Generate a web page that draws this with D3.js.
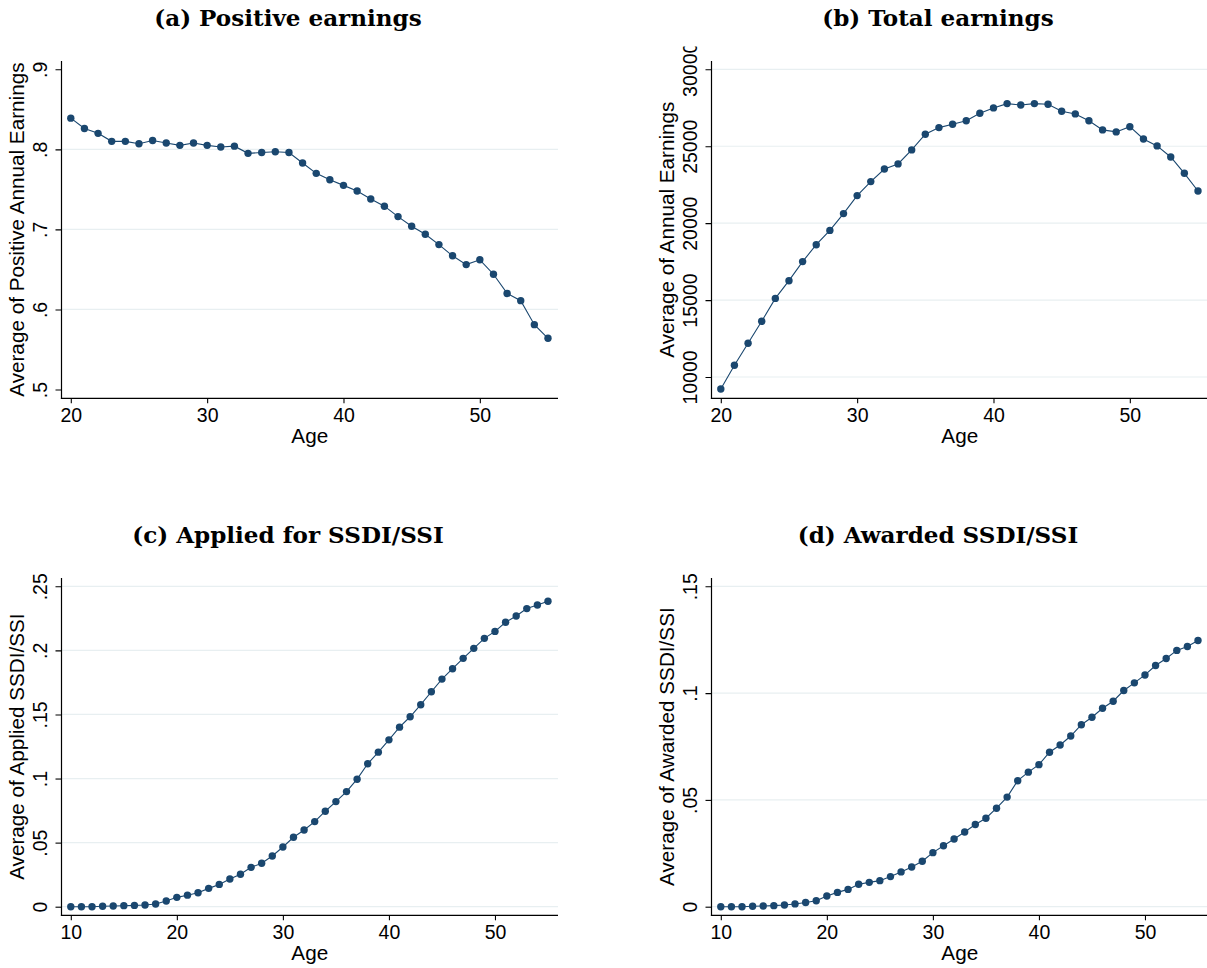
<!DOCTYPE html>
<html>
<head>
<meta charset="utf-8">
<script src="https://cdn.jsdelivr.net/npm/d3@7"></script>
<style>
  html, body { margin: 0; padding: 0; background: #fff; }
  svg { display: block; }
</style>
</head>
<body>
<svg id="chart" width="1207" height="968"></svg>
<script>
// ---------------- DATA ----------------
const agesA = [20,21,22,23,24,25,26,27,28,29,30,31,32,33,34,35,36,37,38,39,40,41,42,43,44,45,46,47,48,49,50,51,52,53,54,55];
const positiveEarnings = [0.839,0.826,0.820,0.810,0.810,0.807,0.811,0.808,0.805,0.808,0.805,0.803,0.804,0.795,0.796,0.797,0.796,0.783,0.770,0.762,0.755,0.748,0.738,0.729,0.716,0.704,0.694,0.681,0.667,0.656,0.662,0.644,0.620,0.611,0.581,0.564];

const agesB = [20,21,22,23,24,25,26,27,28,29,30,31,32,33,34,35,36,37,38,39,40,41,42,43,44,45,46,47,48,49,50,51,52,53,54,55];
const totalEarnings = [9220,10760,12190,13620,15110,16260,17500,18600,19530,20620,21790,22700,23520,23850,24760,25780,26210,26430,26660,27140,27490,27770,27680,27770,27730,27270,27100,26660,26060,25930,26270,25470,25020,24300,23240,22090];

const agesC = [10,11,12,13,14,15,16,17,18,19,20,21,22,23,24,25,26,27,28,29,30,31,32,33,34,35,36,37,38,39,40,41,42,43,44,45,46,47,48,49,50,51,52,53,54,55];
const appliedSSDI = [0,0,0,0.0003,0.0005,0.0008,0.001,0.0013,0.0021,0.0045,0.0073,0.0090,0.0109,0.0143,0.0174,0.0216,0.0253,0.0307,0.0339,0.0396,0.0466,0.0542,0.0599,0.0664,0.0745,0.0820,0.0898,0.0995,0.1115,0.1206,0.1302,0.1401,0.1482,0.1576,0.1677,0.1776,0.1857,0.1938,0.2016,0.2094,0.2148,0.2219,0.2268,0.2326,0.2354,0.2383];

const agesD = [10,11,12,13,14,15,16,17,18,19,20,21,22,23,24,25,26,27,28,29,30,31,32,33,34,35,36,37,38,39,40,41,42,43,44,45,46,47,48,49,50,51,52,53,54,55];
const awardedSSDI = [0,0,0,0.0002,0.0003,0.0005,0.0008,0.0013,0.002,0.0028,0.005,0.0067,0.0081,0.0105,0.0114,0.0122,0.0141,0.0163,0.0186,0.0213,0.0253,0.0285,0.0317,0.035,0.0385,0.0414,0.0461,0.0513,0.059,0.063,0.0665,0.0723,0.0757,0.0799,0.0852,0.0887,0.0929,0.0962,0.1012,0.1048,0.1085,0.1129,0.1162,0.12,0.1218,0.1246];

const titles = ["(a) Positive earnings", "(b) Total earnings", "(c) Applied for SSDI/SSI", "(d) Awarded SSDI/SSI"];
const yTitles = ["Average of Positive Annual Earnings", "Average of Annual Earnings", "Average of Applied SSDI/SSI", "Average of Awarded SSDI/SSI"];
const xTitle = "Age";

const yTicksA = [0.5,0.6,0.7,0.8,0.9];       const yLabelsA = [".5",".6",".7",".8",".9"];
const yTicksB = [10000,15000,20000,25000,30000]; const yLabelsB = ["10000","15000","20000","25000","30000"];
const yTicksC = [0,0.05,0.1,0.15,0.2,0.25];   const yLabelsC = ["0",".05",".1",".15",".2",".25"];
const yTicksD = [0,0.05,0.1,0.15];            const yLabelsD = ["0",".05",".1",".15"];
const xTicksTop = [20,30,40,50];
const xTicksBottom = [10,20,30,40,50];

// ---------------- LAYOUT ----------------
const COLOR = "#1a476f";
const GRID = "#e8eff1";
const SANS = "'Liberation Sans', Arial, Helvetica, sans-serif";
const SERIF = "'DejaVu Serif', 'Liberation Serif', serif";
const FS = 19.5;

const L = { axisX: 61.5, right: 558, top: 61, bottom: 398.3,
            x0: 70.8, x1: 548, yTop: 69.3, clipTop: 46.5 };

const panels = [
  { ox: 0,   oy: 0,   ages: agesA, vals: positiveEarnings, xDom: [20,55], yDom: [0.5,0.9],     yBot: 389.5, yTicks: yTicksA, yLabels: yLabelsA, xTicks: xTicksTop,    grid: [0.6,0.7,0.8] },
  { ox: 650, oy: 0,   ages: agesB, vals: totalEarnings,    xDom: [20,55], yDom: [10000,30000], yBot: 377.0, yTicks: yTicksB, yLabels: yLabelsB, xTicks: xTicksTop,    grid: yTicksB },
  { ox: 0,   oy: 517, ages: agesC, vals: appliedSSDI,      xDom: [10,55], yDom: [0,0.25],      yBot: 389.7, yTicks: yTicksC, yLabels: yLabelsC, xTicks: xTicksBottom, grid: yTicksC },
  { ox: 650, oy: 517, ages: agesD, vals: awardedSSDI,      xDom: [10,55], yDom: [0,0.15],      yBot: 389.7, yTicks: yTicksD, yLabels: yLabelsD, xTicks: xTicksBottom, grid: yTicksD }
];

const svg = d3.select("#chart");
const defs = svg.append("defs");
defs.append("clipPath").attr("id", "panelclip")
  .append("rect").attr("x", 0).attr("y", L.clipTop).attr("width", 600).attr("height", 450);

// Title font size fitted to the measured width of title (c)
const probe = svg.append("text").attr("font-family", SERIF).attr("font-weight", "bold")
  .attr("font-size", 20).text(titles[2]);
const wProbe = probe.node().getComputedTextLength();
probe.remove();
const titleFS = 20 * 311.7 / wProbe;

panels.forEach((p, i) => {
  const g = svg.append("g").attr("transform", `translate(${p.ox},${p.oy})`);

  // title
  g.append("text")
    .attr("x", 288).attr("y", 26.3)
    .attr("text-anchor", "middle")
    .attr("font-family", SERIF).attr("font-weight", "bold")
    .attr("font-size", titleFS)
    .attr("fill", "#000")
    .text(titles[i]);

  const pg = g.append("g").attr("clip-path", "url(#panelclip)");

  const x = d3.scaleLinear().domain(p.xDom).range([L.x0, L.x1]);
  const y = d3.scaleLinear().domain(p.yDom).range([p.yBot, L.yTop]);

  // grid
  pg.append("g").selectAll("line").data(p.grid).join("line")
    .attr("x1", L.axisX).attr("x2", L.right)
    .attr("y1", d => y(d)).attr("y2", d => y(d))
    .attr("stroke", GRID).attr("stroke-width", 1.2);

  // y axis
  const ya = pg.append("g").attr("transform", `translate(${L.axisX},0)`)
    .call(d3.axisLeft(y).tickValues(p.yTicks).tickFormat((d, k) => p.yLabels[k]).tickSize(6).tickSizeOuter(0));
  ya.select(".domain").remove();
  ya.selectAll(".tick line").attr("stroke", "#000").attr("stroke-width", 1.1);
  ya.selectAll(".tick text")
    .attr("x", null).attr("dy", null).attr("y", null)
    .attr("transform", "translate(-14.8,0) rotate(-90)")
    .attr("text-anchor", "middle")
    .attr("font-family", SANS).attr("font-size", FS).attr("fill", "#000");

  pg.append("line").attr("x1", L.axisX).attr("x2", L.axisX)
    .attr("y1", L.top).attr("y2", L.bottom + 0.6)
    .attr("stroke", "#000").attr("stroke-width", 1.2);

  // x axis
  const xa = pg.append("g").attr("transform", `translate(0,${L.bottom})`)
    .call(d3.axisBottom(x).tickValues(p.xTicks).tickFormat(d3.format("d")).tickSize(5).tickSizeOuter(0));
  xa.select(".domain").remove();
  xa.selectAll(".tick line").attr("stroke", "#000").attr("stroke-width", 1.1);
  xa.selectAll(".tick text")
    .attr("y", 24).attr("dy", null)
    .attr("font-family", SANS).attr("font-size", FS).attr("fill", "#000");

  pg.append("line").attr("x1", L.axisX - 0.6).attr("x2", L.right)
    .attr("y1", L.bottom).attr("y2", L.bottom)
    .attr("stroke", "#000").attr("stroke-width", 1.2);

  // axis titles
  pg.append("text")
    .attr("transform", `translate(24,${(L.top + L.bottom) / 2}) rotate(-90)`)
    .attr("text-anchor", "middle")
    .attr("font-family", SANS).attr("font-size", 20.7).attr("fill", "#000")
    .text(yTitles[i]);
  pg.append("text")
    .attr("x", (L.axisX + L.right) / 2).attr("y", 443.3)
    .attr("text-anchor", "middle")
    .attr("font-family", SANS).attr("font-size", 20.7).attr("fill", "#000")
    .text(xTitle);

  // data
  const pts = p.ages.map((a, k) => [a, p.vals[k]]);
  pg.append("path").datum(pts)
    .attr("fill", "none").attr("stroke", COLOR).attr("stroke-width", 1.1)
    .attr("d", d3.line().x(d => x(d[0])).y(d => y(d[1])));
  pg.append("g").selectAll("circle").data(pts).join("circle")
    .attr("cx", d => x(d[0])).attr("cy", d => y(d[1]))
    .attr("r", 3.7).attr("fill", COLOR);
});
</script>
</body>
</html>
